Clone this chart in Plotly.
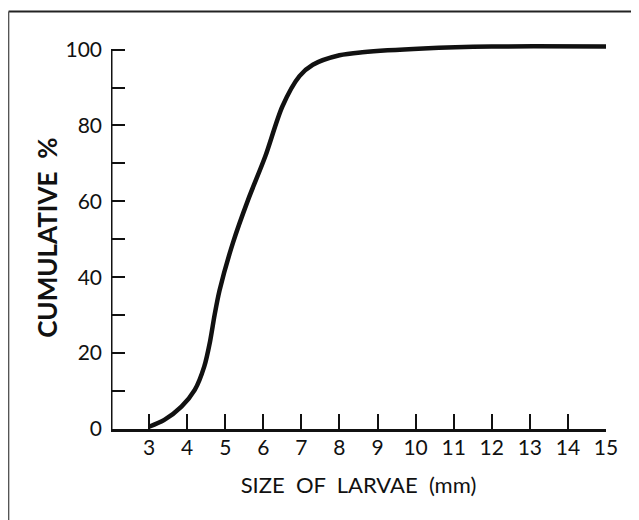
import plotly.graph_objects as go

size_mm = [3.0, 3.4, 3.85, 4.2, 4.45, 4.6, 4.72, 4.85, 5.2, 5.6, 6.05, 6.5, 6.95, 7.3, 8.0, 8.6, 10.2, 12.0, 15.0]
cum_pct = [0.6, 2.4, 5.9, 10.3, 16.5, 23.0, 30.0, 36.5, 49.0, 60.4, 71.8, 85.0, 93.0, 96.0, 98.5, 99.3, 100.3, 100.8, 100.8]

x_ticks = list(range(3, 16))
y_ticks = list(range(0, 101, 10))
y_ticktext = [str(v) if v % 20 == 0 else "" for v in y_ticks]

W, H = 639, 520
# page body has an 8px offset in the screenshot
L, B = 103, 99
PW = 495.5
R = W - L - PW
unit = 3.79            # px per percent
T = (H - B) - 102 * unit
PH = H - T - B

def pxp(x):
    return (x - L) / PW

def pyp(y):
    return (H - B - y) / PH

fig = go.Figure()
fig.add_trace(go.Scatter(
    x=size_mm, y=cum_pct, mode="lines",
    line=dict(color="#111111", width=4.5, shape="spline", smoothing=0.8),
    showlegend=False, hoverinfo="skip"))

font_family = "Lato, DejaVu Sans, sans-serif"
fig.update_layout(
    width=W, height=H,
    margin=dict(l=L, r=R, t=T, b=B),
    paper_bgcolor="white", plot_bgcolor="white",
    font=dict(family=font_family, color="#111111"),
    xaxis=dict(
        range=[2, 15], tickvals=x_ticks, ticktext=[str(v) for v in x_ticks],
        ticks="inside", ticklen=15, tickwidth=1.5, tickcolor="#111111",
        showline=True, linewidth=3, linecolor="#111111", showgrid=False, zeroline=False,
        tickfont=dict(size=21), ticklabelstandoff=-2,
        title=dict(text="SIZE  OF  LARVAE  (mm)", font=dict(size=22), standoff=20),
    ),
    yaxis=dict(
        range=[0, 102], tickvals=y_ticks, ticktext=y_ticktext,
        ticks="inside", ticklen=14, tickwidth=2, tickcolor="#111111",
        showline=False, showgrid=False, zeroline=False,
        tickfont=dict(size=21), ticklabelstandoff=8,
    ),
    annotations=[
        dict(text="<b>CUMULATIVE  %</b>", xref="paper", yref="paper",
             x=pxp(39), y=pyp(230), xanchor="center", yanchor="middle",
             textangle=-90, showarrow=False, font=dict(size=26)),
    ],
    shapes=[
        dict(type="line", xref="x", yref="y", x0=2, x1=2, y0=0, y1=100,
             line=dict(color="#111111", width=3)),
        dict(type="line", xref="paper", yref="paper", x0=pxp(0.5), x1=pxp(639), y0=pyp(4), y1=pyp(4),
             line=dict(color="#222222", width=2)),
        dict(type="line", xref="paper", yref="paper", x0=pxp(0.5), x1=pxp(0.5), y0=pyp(4), y1=pyp(520),
             line=dict(color="#555555", width=1.5)),
    ],
)

fig.write_html("out.html")
